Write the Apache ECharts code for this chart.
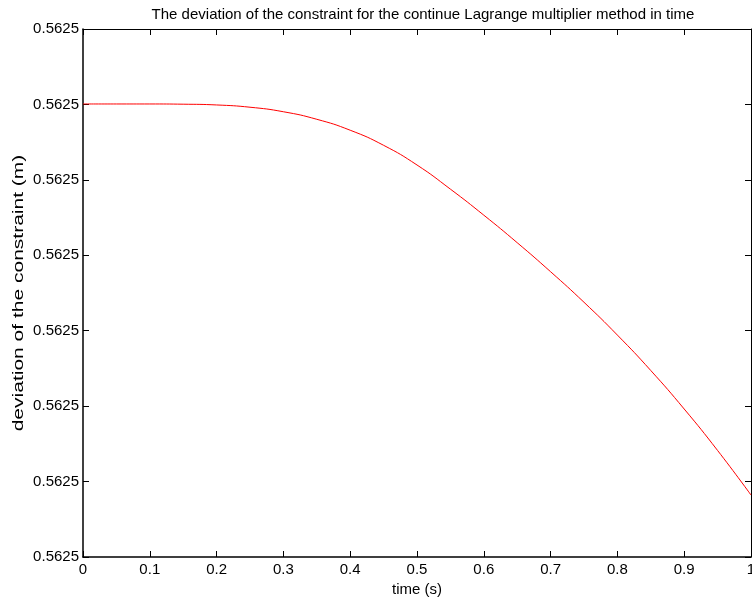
<!DOCTYPE html>
<html>
<head>
<meta charset="utf-8">
<title>Constraint deviation</title>
<script src="https://cdn.jsdelivr.net/npm/echarts@6/dist/echarts.min.js"></script>
<style>
  html, body { margin: 0; padding: 0; background: #fff; }
  #chart { width: 752px; height: 599px; }
</style>
</head>
<body>
<div id="chart"></div>
<script>
// Time samples (s)
const time = [0, 0.05, 0.1, 0.15, 0.2, 0.25, 0.3, 0.35, 0.4, 0.45, 0.5,
              0.55, 0.6, 0.65, 0.7, 0.75, 0.8, 0.85, 0.9, 0.95, 1.0];
// Deviation of the constraint, in tick units above the axis floor
const deviation = [6.006, 6.006, 6.006, 6.003, 5.993, 5.963, 5.903, 5.803, 5.658, 5.458, 5.197,
                   4.877, 4.532, 4.167, 3.782, 3.377, 2.942, 2.472, 1.962, 1.412, 0.822];
// Every y tick prints the same rounded value
const yTickLabel = '0.5625';

const titleText = 'The deviation of the constraint for the continue Lagrange multiplier method in time';
const yName = 'deviation of the constraint (m)';
const xName = 'time (s)';

const font = 'Liberation Sans, Arial, Helvetica, sans-serif';
const fontSize = 15;
const mainLine = { show: true, onZero: false, lineStyle: { color: '#000', width: 1.5 } };
const boxLine = { show: true, onZero: false, lineStyle: { color: '#000', width: 1 } };
const ticksIn = { show: true, inside: true, length: 6, lineStyle: { color: '#000', width: 1 } };

const chart = echarts.init(document.getElementById('chart'), null, { renderer: 'canvas' });
chart.setOption({
  animation: false,
  backgroundColor: '#fff',
  title: {
    text: titleText,
    left: 418, top: 2, textAlign: 'center',
    textStyle: { fontFamily: font, fontSize: fontSize, fontWeight: 'normal', color: '#000' }
  },
  grid: { left: 83, top: 29, right: 1, bottom: 42, outerBoundsMode: 'none', containLabel: false },
  xAxis: [{
    type: 'value', position: 'bottom', min: 0, max: 1, interval: 0.1,
    name: xName, nameLocation: 'middle', nameGap: 23,
    nameTextStyle: { fontFamily: font, fontSize: fontSize, color: '#000' },
    axisLine: mainLine, axisTick: ticksIn, splitLine: { show: false },
    axisLabel: { fontFamily: font, fontSize: fontSize, color: '#000', margin: 5,
      showMinLabel: true, showMaxLabel: true, hideOverlap: false,
      formatter: v => String(Math.round(v * 10) / 10) }
  }, {
    type: 'value', position: 'top', min: 0, max: 1, interval: 0.1,
    axisLine: boxLine, axisTick: ticksIn, splitLine: { show: false },
    axisLabel: { show: false }
  }],
  yAxis: [{
    type: 'value', position: 'left', min: 0, max: 7, interval: 1,
    axisLine: mainLine, axisTick: ticksIn, splitLine: { show: false },
    axisLabel: { fontFamily: font, fontSize: fontSize, color: '#000', margin: 4,
      showMinLabel: true, showMaxLabel: true, hideOverlap: false,
      formatter: () => yTickLabel }
  }, {
    type: 'value', position: 'right', min: 0, max: 7, interval: 1,
    axisLine: boxLine, axisTick: ticksIn, splitLine: { show: false },
    axisLabel: { show: false }
  }],
  // Y-axis caption, drawn rotated and widened along its reading direction
  graphic: [{
    type: 'text',
    x: 19, y: 293,
    rotation: Math.PI / 2,
    scaleX: 1.4,
    style: {
      text: yName,
      font: fontSize + 'px ' + font,
      fill: '#000',
      align: 'center',
      verticalAlign: 'middle'
    }
  }],
  series: [{
    type: 'line',
    xAxisIndex: 0, yAxisIndex: 0,
    data: time.map((t, i) => [t, deviation[i]]),
    smooth: true,
    showSymbol: false,
    lineStyle: { color: '#ff0000', width: 1 },
    clip: true
  }]
});
</script>
</body>
</html>
